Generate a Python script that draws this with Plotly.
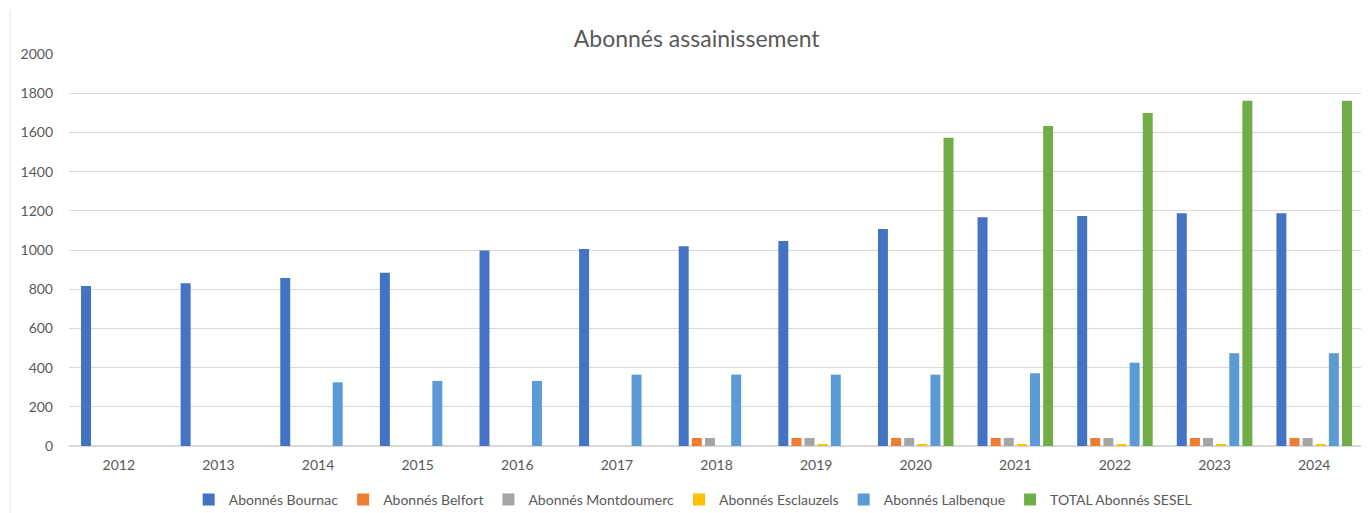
import plotly.graph_objects as go

years = ["2012", "2013", "2014", "2015", "2016", "2017", "2018", "2019", "2020", "2021", "2022", "2023", "2024"]
bournac = [816, 830, 857, 884, 998, 1005, 1019, 1046, 1107, 1167, 1173, 1187, 1187]
belfort = [None, None, None, None, None, None, 41, 41, 41, 41, 41, 41, 41]
montdoumerc = [None, None, None, None, None, None, 41, 41, 41, 41, 41, 41, 41]
esclauzels = [None, None, None, None, None, None, None, 8, 8, 8, 8, 8, 8]
lalbenque = [None, None, 325, 332, 332, 364, 364, 364, 364, 371, 425, 473, 473]
total = [None, None, None, None, None, None, None, None, 1573, 1633, 1699, 1762, 1762]

series = [
    ("Abonnés Bournac", bournac, "#4472C4"),
    ("Abonnés Belfort", belfort, "#ED7D31"),
    ("Abonnés Montdoumerc", montdoumerc, "#A5A5A5"),
    ("Abonnés Esclauzels", esclauzels, "#FFC000"),
    ("Abonnés Lalbenque", lalbenque, "#5B9BD5"),
    ("TOTAL Abonnés SESEL", total, "#70AD47"),
]

fig = go.Figure()
for name, vals, col in series:
    fig.add_trace(go.Bar(x=years, y=vals, name=name, marker_color=col, marker_line_width=0))

font_family = "Lato, 'Open Sans', sans-serif"
fig.update_layout(
    width=1361, height=505,
    margin=dict(l=61, r=5, t=46, b=67),
    paper_bgcolor="white", plot_bgcolor="white",
    barmode="group", bargap=0.21, bargroupgap=0.24,
    font=dict(family=font_family, color="#595959", size=14),
    title=dict(text="Abonnés assainissement", x=0.506, xanchor="center", y=0.9386, yanchor="middle",
               font=dict(size=23, color="#595959", family=font_family)),
    xaxis=dict(type="category", showgrid=False, showline=True, linecolor="#d9d9d9", linewidth=1,
               ticks="", tickfont=dict(size=14, color="#595959"), ticklabelstandoff=6),
    yaxis=dict(range=[0, 2000], dtick=200, showgrid=True, gridcolor="#d9d9d9", gridwidth=1,
               zeroline=True, zerolinecolor="#d9d9d9", showline=False, ticks="",
               tickfont=dict(size=14, color="#595959"), ticklabelstandoff=15),
    legend=dict(orientation="h", x=0.482, xanchor="center", yref="container", y=0.026, yanchor="middle",
                font=dict(size=14, color="#595959"), itemwidth=30, traceorder="normal",
                tracegroupgap=0),
    showlegend=True,
)
fig.add_shape(type="line", xref="paper", yref="paper", x0=-0.0456, x1=-0.0456, y0=-0.171, y1=1.112,
              line=dict(color="#e6e6e6", width=1))
fig.write_html("out.html")
